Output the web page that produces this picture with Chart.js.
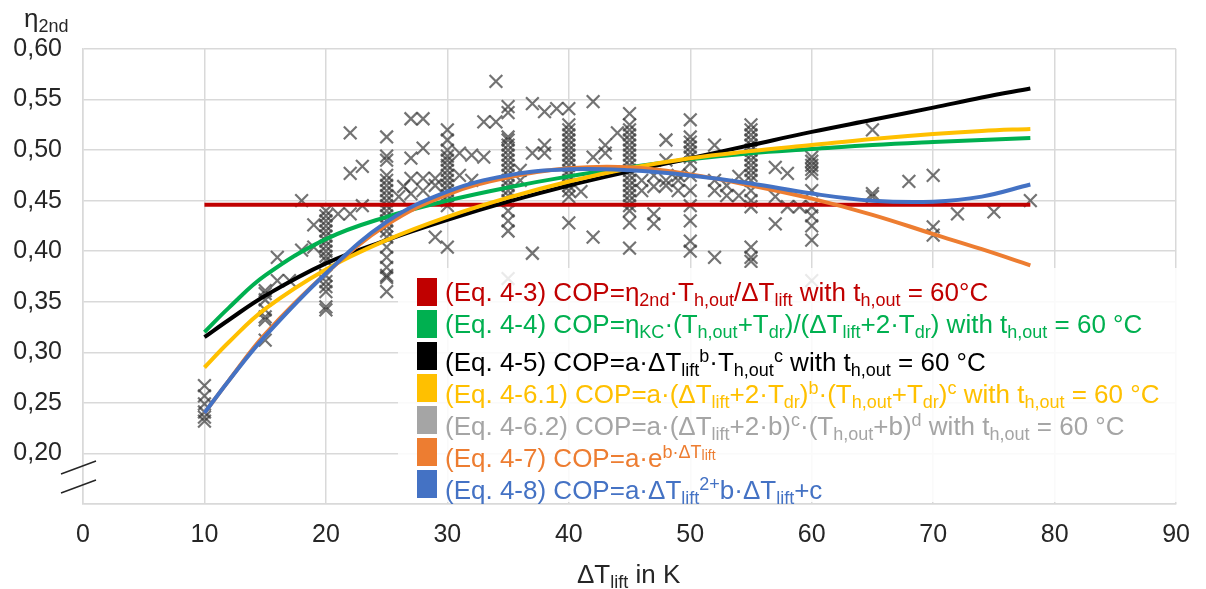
<!DOCTYPE html>
<html>
<head>
<meta charset="utf-8">
<script src="https://cdn.jsdelivr.net/npm/chart.js@4/dist/chart.umd.min.js"></script>
<style>
  body { margin: 0; background: #fff; font-family: 'Liberation Sans', Arial, sans-serif; }
  #wrap { position: relative; width: 1206px; height: 589px; }
  canvas { position: absolute; left: 0; top: 0; }
  .ttl { position: absolute; font-size: 26px; color: #262626; white-space: nowrap; }
  .ttl sub { font-size: 18px; vertical-align: -5px; }
  #legend {
    position: absolute; left: 398px; top: 268px; width: 792px; height: 234px;
    background: rgba(255,255,255,0.85);
  }
  .row { position: absolute; left: 19px; height: 28px; white-space: nowrap; font-size: 26px; }
  .row .sw { position: absolute; left: 0; top: 0; width: 20px; height: 28px; }
  .row .tx { position: absolute; left: 28px; top: 0; line-height: 28px; }
  .row sub { font-size: 18px; vertical-align: -5px; }
  .row sup { font-size: 18px; vertical-align: 9px; }
  .row sup sub { font-size: 14px; vertical-align: -2px; }
</style>
</head>
<body>
<div id="wrap">
  <canvas id="chart" width="1206" height="589"></canvas>
  <div class="ttl" style="left:24px; top:3px;">η<sub>2nd</sub></div>
  <div class="ttl" style="left:577px; top:559px;">ΔT<sub>lift</sub> in K</div>
  <div id="legend"></div>
</div>
<script>
// x positions of the fitted curves
const lineX = [10, 12, 15, 20, 25, 30, 35, 40, 45, 50, 55, 60, 65, 70, 74, 78]
const eq43 = [0.446, 0.446, 0.446, 0.446, 0.446, 0.446, 0.446, 0.446, 0.446, 0.446, 0.446, 0.446, 0.446, 0.446, 0.446, 0.446]
const eq44 = [0.320, 0.344, 0.376, 0.412, 0.434, 0.450, 0.463, 0.474, 0.483, 0.491, 0.497, 0.501, 0.505, 0.508, 0.510, 0.512]
const eq45 = [0.315, 0.332, 0.356, 0.388, 0.411, 0.431, 0.449, 0.465, 0.479, 0.492, 0.505, 0.518, 0.530, 0.542, 0.552, 0.561]
const eq461 = [0.285, 0.310, 0.343, 0.382, 0.411, 0.434, 0.453, 0.469, 0.482, 0.492, 0.499, 0.505, 0.511, 0.516, 0.519, 0.521]
const eq47 = [0.240, 0.272, 0.318, 0.378, 0.426, 0.456, 0.473, 0.482, 0.483, 0.476, 0.465, 0.452, 0.436, 0.417, 0.402, 0.386]
const eq48 = [0.240, 0.272, 0.316, 0.378, 0.429, 0.459, 0.475, 0.481, 0.480, 0.475, 0.467, 0.457, 0.450, 0.449, 0.454, 0.466]

// measured points [dT_lift, eta_2nd]
const measured = [
  [10,0.267],[10,0.257],[10,0.249],[10,0.241],[10,0.236],[10,0.232],
  [15,0.361],[15,0.358],[15,0.352],[15,0.342],[15,0.335],[15,0.332],[15,0.312],
  [16,0.394],[16,0.371],[17,0.371],[18,0.450],[18,0.401],[19,0.426],[19,0.404],
  [20,0.440],[20,0.435],[20,0.430],[20,0.425],[20,0.420],[20,0.415],[20,0.410],[20,0.405],[20,0.400],
  [20,0.395],[20,0.391],[20,0.376],[20,0.370],[20,0.365],[20,0.360],[20,0.345],[20,0.342],
  [21,0.437],[22,0.517],[22,0.477],[22,0.437],[23,0.484],[23,0.445],
  [25,0.513],[25,0.494],[25,0.490],[25,0.475],[25,0.470],[25,0.465],[25,0.460],[25,0.455],[25,0.450],
  [25,0.445],[25,0.440],[25,0.435],[25,0.430],[25,0.425],[25,0.420],[25,0.414],[25,0.404],[25,0.394],
  [25,0.384],[25,0.376],[25,0.374],[25,0.360],
  [26,0.454],[26.4,0.464],[27,0.531],[27,0.492],[27,0.472],[27,0.457],[28,0.531],[28,0.502],[28,0.472],
  [28,0.460],[29,0.472],[29,0.414],[29,0.465],
  [30,0.520],[30,0.510],[30,0.500],[30,0.494],[30,0.490],[30,0.485],[30,0.480],[30,0.475],[30,0.470],
  [30,0.465],[30,0.460],[30,0.455],[30,0.450],[30,0.445],[30,0.404],
  [31,0.475],[31,0.497],[32,0.495],[32,0.470],[33,0.528],[33,0.493],[34,0.568],[34,0.528],
  [35,0.543],[35,0.537],[35,0.513],[35,0.510],[35,0.505],[35,0.500],[35,0.495],[35,0.490],[35,0.485],
  [35,0.480],[35,0.475],[35,0.470],[35,0.465],[35,0.460],[35,0.455],[35,0.450],[35,0.440],[35,0.430],
  [35,0.420],[35,0.373],
  [36,0.480],[36,0.470],[37,0.546],[37,0.497],[37,0.398],[38,0.538],[38,0.505],[38,0.497],[39,0.541],
  [40,0.541],[40,0.525],[40,0.520],[40,0.515],[40,0.510],[40,0.505],[40,0.500],[40,0.495],[40,0.490],
  [40,0.485],[40,0.480],[40,0.475],[40,0.470],[40,0.465],[40,0.460],[40,0.454],[40,0.428],
  [41,0.459],[42,0.548],[42,0.493],[42,0.414],[43,0.497],[43,0.505],[44,0.517],
  [45,0.536],[45,0.525],[45,0.520],[45,0.515],[45,0.510],[45,0.505],[45,0.500],[45,0.495],[45,0.490],
  [45,0.485],[45,0.480],[45,0.475],[45,0.470],[45,0.465],[45,0.460],[45,0.455],[45,0.450],[45,0.445],
  [45,0.440],[45,0.428],[45,0.403],
  [46,0.470],[46,0.460],[47,0.464],[47,0.437],[47,0.427],[47,0.475],[48,0.510],[48,0.490],[48,0.465],
  [48,0.470],[49,0.470],[49,0.460],[49,0.475],
  [50,0.530],[50,0.513],[50,0.508],[50,0.503],[50,0.498],[50,0.493],[50,0.487],[50,0.475],[50,0.460],
  [50,0.445],[50,0.430],[50,0.410],[50,0.400],
  [52,0.505],[52,0.394],[52,0.470],[52,0.460],[53,0.455],[53,0.465],[54,0.474],[54,0.455],
  [55,0.525],[55,0.520],[55,0.515],[55,0.510],[55,0.505],[55,0.500],[55,0.495],[55,0.490],[55,0.485],
  [55,0.480],[55,0.475],[55,0.470],[55,0.460],[55,0.450],[55,0.444],[55,0.404],[55,0.394],[55,0.390],
  [57,0.483],[57,0.454],[57,0.427],[58,0.477],[58,0.444],[59,0.444],
  [60,0.493],[60,0.489],[60,0.485],[60,0.481],[60,0.477],[60,0.460],[60,0.444],[60,0.435],[60,0.425],
  [60,0.411],[60,0.371],
  [65,0.520],[65,0.457],[65,0.454],[68,0.469],[70,0.475],[70,0.424],[70,0.416],[72,0.437],[75,0.439],[78,0.450]
]

const seriesInfo = [
  { color: '#C00000', text: '(Eq. 4-3) COP=η<sub>2nd</sub>·T<sub>h,out</sub>/ΔT<sub>lift</sub> with t<sub>h,out</sub> = 60°C' },
  { color: '#00B050', text: '(Eq. 4-4) COP=η<sub>KC</sub>·(T<sub>h,out</sub>+T<sub>dr</sub>)/(ΔT<sub>lift</sub>+2·T<sub>dr</sub>) with t<sub>h,out</sub> = 60 °C' },
  { color: '#000000', text: '(Eq. 4-5) COP=a·ΔT<sub>lift</sub><sup>b</sup>·T<sub>h,out</sub><sup>c</sup> with t<sub>h,out</sub> = 60 °C' },
  { color: '#FFC000', text: '(Eq. 4-6.1) COP=a·(ΔT<sub>lift</sub>+2·T<sub>dr</sub>)<sup>b</sup>·(T<sub>h,out</sub>+T<sub>dr</sub>)<sup>c</sup> with t<sub>h,out</sub> = 60 °C' },
  { color: '#A5A5A5', text: '(Eq. 4-6.2) COP=a·(ΔT<sub>lift</sub>+2·b)<sup>c</sup>·(T<sub>h,out</sub>+b)<sup>d</sup> with t<sub>h,out</sub> = 60 °C' },
  { color: '#ED7D31', text: '(Eq. 4-7) COP=a·e<sup>b·ΔT<sub>lift</sub></sup>' },
  { color: '#4472C4', text: '(Eq. 4-8) COP=a·ΔT<sub>lift</sub><sup>2+</sup>b·ΔT<sub>lift</sub>+c' }
]

const legend = document.getElementById('legend')
seriesInfo.forEach((s, i) => {
  const row = document.createElement('div')
  row.className = 'row'
  row.style.top = (10 + i * 32) + 'px'
  row.innerHTML = '<div class="sw" style="background:' + s.color + '"></div>' +
    '<div class="tx" style="color:' + s.color + '">' + s.text + '</div>'
  legend.appendChild(row)
})

function curve(values, color, order) {
  return {
    type: 'line',
    data: lineX.map((x, i) => ({ x: x, y: values[i] })),
    borderColor: color,
    borderWidth: 4,
    pointRadius: 0,
    tension: 0.4,
    fill: false,
    order: order
  }
}

const axisBreak = {
  id: 'axisBreak',
  afterDraw(chart) {
    const ctx = chart.ctx
    ctx.save()
    ctx.strokeStyle = '#262626'
    ctx.lineWidth = 1.5
    ctx.beginPath()
    ctx.moveTo(61, 474); ctx.lineTo(96, 461)
    ctx.moveTo(61, 493); ctx.lineTo(96, 480)
    ctx.stroke()
    ctx.restore()
  }
}

const ctx = document.getElementById('chart').getContext('2d')
new Chart(ctx, {
  type: 'scatter',
  data: {
    datasets: [
      curve(eq48, '#4472C4', 1),
      curve(eq47, '#ED7D31', 2),
      curve(eq461, '#FFC000', 3),
      curve(eq45, '#000000', 4),
      curve(eq44, '#00B050', 5),
      curve(eq43, '#C00000', 6),
      {
        data: measured.map(p => ({ x: p[0], y: p[1] })),
        pointStyle: 'crossRot',
        pointRadius: 9,
        pointBorderWidth: 2.2,
        borderColor: 'rgba(55,55,55,0.7)',
        backgroundColor: 'rgba(55,55,55,0.7)',
        order: 10
      }
    ]
  },
  options: {
    responsive: false,
    animation: false,
    devicePixelRatio: 1,
    layout: { padding: { top: 49, right: 27, left: 0, bottom: 0 } },
    plugins: { legend: { display: false }, tooltip: { enabled: false } },
    scales: {
      x: {
        type: 'linear',
        min: 0, max: 90,
        afterFit: s => { s.height = 85 },
        ticks: { stepSize: 10, padding: 16, color: '#262626', font: { family: "'Liberation Sans', Arial", size: 25 } },
        grid: { color: '#d9d9d9', lineWidth: 1.5, drawTicks: false },
        border: { color: '#d9d9d9', width: 1.5 }
      },
      y: {
        min: 0.15, max: 0.60,
        afterFit: s => { s.width = 83 },
        ticks: {
          stepSize: 0.05, padding: 21, color: '#262626',
          font: { family: "'Liberation Sans', Arial", size: 25 },
          callback: v => v < 0.17 ? '' : v.toFixed(2).replace('.', ',')
        },
        grid: { color: '#d9d9d9', lineWidth: 1.5, drawTicks: false },
        border: { color: '#d9d9d9', width: 1.5 }
      }
    }
  },
  plugins: [axisBreak]
})
</script>
</body>
</html>
